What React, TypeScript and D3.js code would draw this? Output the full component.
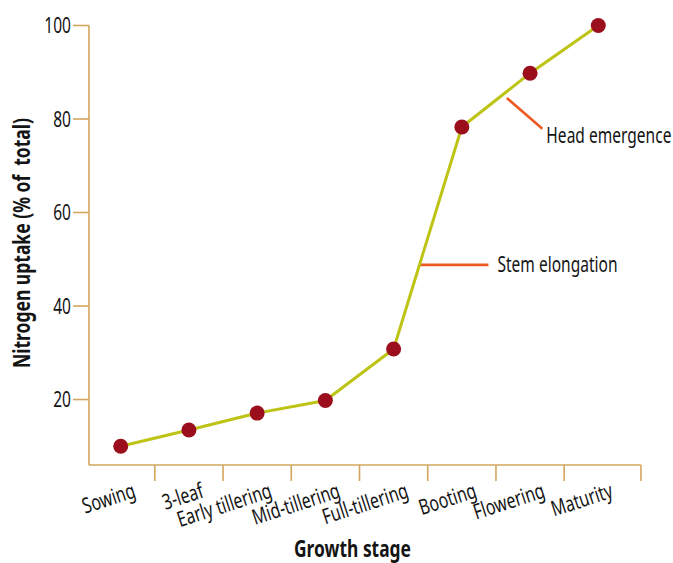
import React from "react";
import * as d3 from "d3";

const stages = [
  "Sowing",
  "3-leaf",
  "Early tillering",
  "Mid-tillering",
  "Full-tillering",
  "Booting",
  "Flowering",
  "Maturity",
];
const uptake = [10, 13.5, 17.1, 19.8, 30.8, 78.3, 89.8, 100];
const yTicks = [20, 40, 60, 80, 100];
// annotations in data units: fractional stage index and uptake value
const annotLabels = ["Stem elongation", "Head emergence"];
const annotStartIdx = [4.39, 5.66];
const annotStartVal = [48.8, 84.5];
const annotEndIdx = [5.39, 6.18];
const annotEndVal = [48.8, 77.9];

const W = 673;
const H = 563;
const FONT = "'Noto Sans', 'Open Sans', sans-serif";
const SX = 0.74; // horizontal condensing to mimic a condensed face
const AXIS = "#d2a65e";
const LINE = "#bec415";
const DOT = "#9b0f1d";
const ORANGE = "#ec5a22";
const TEXT = "#141414";

function CText({
  x,
  y,
  rotate = 0,
  sx = SX,
  anchor = "start",
  size = 21,
  bold = false,
  dy,
  fitLength,
  children,
}: {
  x: number;
  y: number;
  rotate?: number;
  sx?: number;
  anchor?: string;
  size?: number;
  bold?: boolean;
  dy?: string;
  fitLength?: number;
  children: React.ReactNode;
}) {
  return (
    <g transform={`translate(${x},${y}) rotate(${rotate}) scale(${sx},1)`}>
      <text
        x={0}
        y={0}
        dy={dy}
        textAnchor={anchor as any}
        fontSize={size}
        fontWeight={bold ? "bold" : "normal"}
        fill={TEXT}
        fontFamily={FONT}
        textLength={fitLength}
        lengthAdjust={fitLength ? "spacingAndGlyphs" : undefined}
      >
        {children}
      </text>
    </g>
  );
}

export default function App() {
  const left = 89;
  const right = 641;
  const top = 25.5;
  const bottom = 465;

  const x = d3.scalePoint<string>().domain(stages).range([120.7, 598.3]);
  const y = d3.scaleLinear().domain([6, 100]).range([bottom, top]);
  const step = x.step();
  const xAt = (i: number) => (x(stages[0]) as number) + i * step;

  const line = d3
    .line<number>()
    .x((_, i) => x(stages[i]) as number)
    .y((d) => y(d));

  const xTicks = stages
    .slice(0, -1)
    .map((s, i) => ((x(s) as number) + (x(stages[i + 1]) as number)) / 2);
  xTicks.push(right);

  return (
    <svg
      width={W}
      height={H}
      style={{ position: "absolute", left: 0, top: 0, background: "#fff" }}
      fontFamily={FONT}
    >
      {/* axes */}
      <line x1={left} x2={left} y1={top} y2={bottom} stroke={AXIS} strokeWidth={1.6} />
      <line x1={left} x2={right} y1={bottom} y2={bottom} stroke={AXIS} strokeWidth={1.6} />
      {yTicks.map((t) => (
        <g key={t}>
          <line x1={left - 16} x2={left} y1={y(t)} y2={y(t)} stroke={AXIS} strokeWidth={1.6} />
          <CText x={left - 18} y={y(t)} dy="0.36em" anchor="end">
            {t}
          </CText>
        </g>
      ))}
      {xTicks.map((t, i) => (
        <line key={i} x1={t} x2={t} y1={bottom} y2={bottom + 16} stroke={AXIS} strokeWidth={1.6} />
      ))}
      {stages.map((s) => (
        <CText key={s} x={(x(s) as number) + 16} y={497} rotate={-18} anchor="end" size={21.5}>
          {s}
        </CText>
      ))}

      {/* axis titles */}
      <CText x={352.5} y={557} anchor="middle" size={23} bold sx={1} fitLength={117}>
        Growth stage
      </CText>
      <CText x={30} y={243} rotate={-90} anchor="middle" size={23} bold sx={1} fitLength={250}>
        Nitrogen uptake (% of&#160; total)
      </CText>

      {/* annotations */}
      {annotLabels.map((lab, i) => (
        <g key={lab}>
          <line
            x1={xAt(annotStartIdx[i])}
            y1={y(annotStartVal[i])}
            x2={xAt(annotEndIdx[i])}
            y2={y(annotEndVal[i])}
            stroke={ORANGE}
            strokeWidth={2.6}
          />
          <CText
            x={xAt(annotEndIdx[i]) + (i === 0 ? 9 : 4)}
            y={y(annotEndVal[i]) + (i === 0 ? 0 : 7)}
            dy="0.36em"
          >
            {lab}
          </CText>
        </g>
      ))}

      {/* data */}
      <path d={line(uptake) || ""} fill="none" stroke={LINE} strokeWidth={3} />
      {uptake.map((v, i) => (
        <circle key={i} cx={x(stages[i]) as number} cy={y(v)} r={7.5} fill={DOT} />
      ))}
    </svg>
  );
}
